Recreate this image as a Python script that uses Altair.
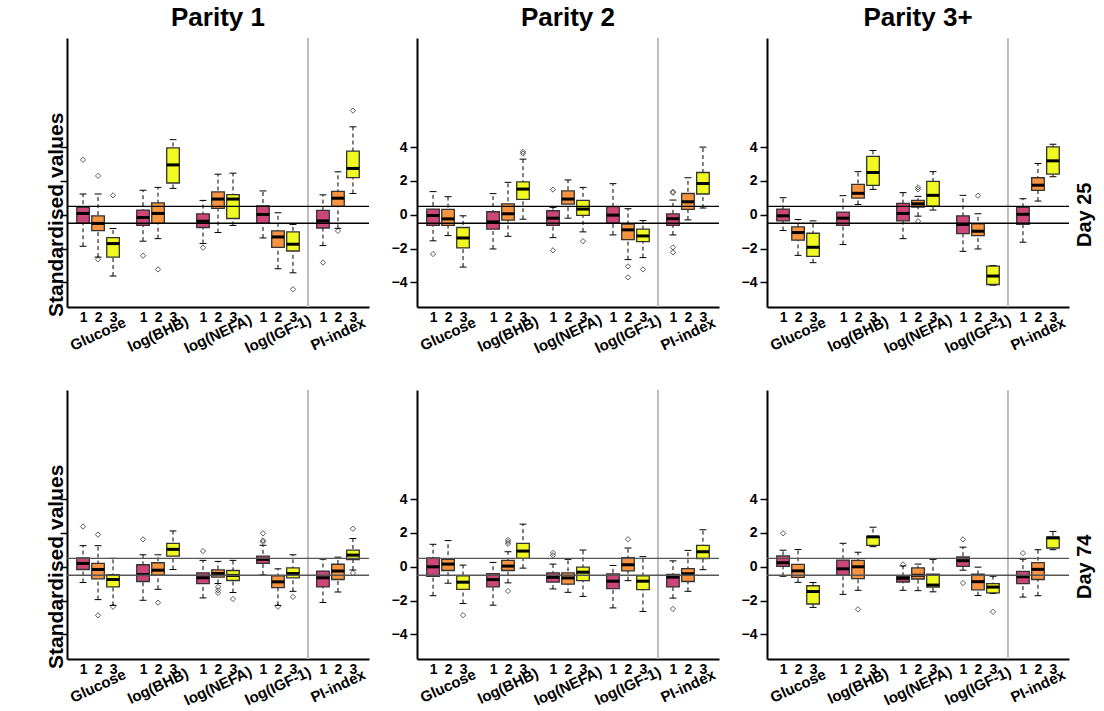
import altair as alt
import pandas as pd

# ---------------------------------------------------------------------------
# Data: standardised blood metabolites by cluster, parity and day in milk
# ---------------------------------------------------------------------------
VARIABLES = ["Glucose", "log(BHB)", "log(NEFA)", "log(IGF-1)", "PI-index"]
CLUSTERS = [1, 2, 3]
CLUSTER_COLOURS = ["#CC4678", "#F89441", "#F0F921"]
PARITIES = ["Parity 1", "Parity 2", "Parity 3+"]
DAYS = ["Day 25", "Day 74"]
Y_TICKS = [-4, -2, 0, 2, 4]
REF_LEVELS = [-0.5, 0.5]

# Box statistics (lower whisker, Q1, median, Q3, upper whisker), ordered
# Glucose 1-3, log(BHB) 1-3, log(NEFA) 1-3, log(IGF-1) 1-3, PI-index 1-3
P1_D25 = [
    (-1.86, -0.51, 0.08, 0.44, 1.23), (-2.50, -0.93, -0.51, -0.06, 1.23), (-3.62, -2.50, -1.70, -1.35, -0.81),
    (-1.56, -0.63, -0.16, 0.28, 1.45), (-1.41, -0.51, 0.08, 0.71, 1.62), (1.56, 1.88, 2.95, 3.96, 4.44),
    (-1.70, -0.75, -0.38, 0.06, 0.85), (-1.05, 0.38, 0.93, 1.35, 2.40), (-0.63, -0.22, 0.93, 1.19, 2.46),
    (-1.37, -0.51, 0.02, 0.53, 1.41), (-3.19, -1.92, -1.31, -0.95, 0.12), (-3.43, -2.14, -1.74, -1.01, -0.57),
    (-1.82, -0.78, -0.36, 0.26, 1.18), (-0.80, 0.50, 0.98, 1.38, 2.54), (1.26, 2.20, 2.74, 3.76, 5.20),
]
P2_D25 = [
    (-1.54, -0.63, -0.04, 0.34, 1.37), (-1.23, -0.63, -0.24, 0.32, 1.07), (-3.09, -1.96, -1.37, -0.75, -0.06),
    (-2.02, -0.85, -0.42, 0.18, 1.25), (-1.27, -0.32, 0.06, 0.65, 1.92), (-0.26, 0.91, 1.52, 1.94, 3.29),
    (-1.35, -0.63, -0.20, 0.24, 0.44), (-0.20, 0.63, 0.93, 1.41, 2.06), (-1.01, -0.04, 0.34, 0.85, 1.62),
    (-1.19, -0.50, -0.02, 0.48, 1.84), (-2.65, -1.47, -0.89, -0.55, 0.36), (-2.53, -1.58, -1.25, -0.85, -0.34),
    (-1.19, -0.62, -0.23, 0.05, 0.87), (-0.30, 0.32, 0.77, 1.26, 2.19), (0.40, 1.23, 1.85, 2.50, 4.00),
]
P3_D25 = [
    (-0.93, -0.36, -0.06, 0.34, 1.01), (-2.40, -1.50, -1.05, -0.71, -0.28), (-2.83, -2.46, -1.92, -1.09, -0.36),
    (-1.76, -0.63, -0.20, 0.16, 1.13), (0.61, 0.99, 1.27, 1.80, 2.55), (1.50, 1.74, 2.50, 3.45, 3.80),
    (-1.41, -0.36, 0.08, 0.67, 1.31), (-0.08, 0.46, 0.65, 0.85, 1.09), (0.28, 0.51, 1.15, 1.98, 2.55),
    (-2.16, -1.11, -0.57, -0.06, 1.15), (-2.02, -1.23, -0.97, -0.53, 0.06), (-4.16, -4.12, -3.62, -3.03, -3.00),
    (-1.62, -0.56, 0.03, 0.44, 0.95), (0.81, 1.44, 1.75, 2.19, 3.03), (2.25, 2.40, 3.19, 4.01, 4.17),
]
P1_D74 = [
    (-0.93, -0.16, 0.20, 0.53, 1.25), (-1.94, -0.71, -0.16, 0.20, 1.25), (-2.28, -1.19, -0.75, -0.46, 0.50),
    (-1.98, -0.87, -0.46, 0.12, 0.71), (-1.33, -0.50, -0.20, 0.24, 0.71), (-0.16, 0.63, 1.03, 1.39, 2.12),
    (-1.84, -0.99, -0.65, -0.36, 0.38), (-0.99, -0.61, -0.40, -0.18, 0.32), (-1.52, -0.81, -0.51, -0.22, 0.38),
    (-0.48, 0.20, 0.44, 0.63, 1.27), (-2.28, -1.23, -0.89, -0.53, -0.12), (-1.45, -0.65, -0.40, -0.06, 0.71),
    (-2.11, -1.19, -0.65, -0.25, 0.45), (-1.49, -0.75, -0.25, 0.15, 0.57), (-0.19, 0.43, 0.69, 0.99, 1.67),
]
P2_D74 = [
    (-1.71, -0.56, 0.00, 0.52, 1.33), (-0.97, -0.22, 0.16, 0.44, 1.55), (-2.17, -1.33, -0.91, -0.54, 0.10),
    (-2.27, -1.19, -0.76, -0.40, 0.26), (-0.95, -0.22, 0.04, 0.38, 0.89), (-0.08, 0.50, 0.93, 1.39, 2.52),
    (-1.31, -0.91, -0.62, -0.36, 0.16), (-1.51, -1.03, -0.66, -0.36, 0.44), (-1.75, -0.82, -0.32, -0.02, 0.99),
    (-2.43, -1.29, -0.85, -0.42, 0.08), (-0.82, -0.24, 0.12, 0.54, 1.11), (-2.64, -1.35, -0.85, -0.54, 0.60),
    (-1.85, -1.19, -0.61, -0.45, 0.35), (-1.45, -0.87, -0.41, -0.11, 0.97), (-0.17, 0.49, 0.89, 1.27, 2.19),
]
P3_D74 = [
    (-0.56, 0.02, 0.24, 0.64, 0.98), (-0.92, -0.62, -0.24, 0.14, 1.02), (-2.40, -2.20, -1.46, -1.12, -0.93),
    (-1.63, -0.50, -0.12, 0.40, 1.39), (-1.39, -0.70, 0.00, 0.38, 0.86), (1.19, 1.27, 1.77, 1.79, 2.34),
    (-1.39, -0.90, -0.68, -0.56, 0.05), (-1.41, -0.72, -0.50, -0.06, 0.16), (-1.48, -1.20, -1.08, -0.44, 0.44),
    (-0.20, 0.02, 0.36, 0.58, 1.16), (-1.70, -1.36, -0.88, -0.44, -0.02), (-1.58, -1.54, -1.20, -1.00, -0.56),
    (-1.79, -0.99, -0.59, -0.27, 0.45), (-1.71, -0.75, -0.15, 0.25, 1.01), (1.01, 1.11, 1.71, 1.75, 2.09),
]

# Outlying observations: (variable, cluster, value)
P1_D25_OUT = [("Glucose", 1, 3.25), ("Glucose", 2, 2.30), ("Glucose", 2, -2.63), ("Glucose", 3, 1.15),
              ("log(BHB)", 1, -2.42), ("log(BHB)", 2, -3.23), ("log(NEFA)", 1, -1.94),
              ("log(IGF-1)", 3, -4.40), ("PI-index", 1, -2.82), ("PI-index", 2, -0.95), ("PI-index", 3, 6.16)]
P2_D25_OUT = [("Glucose", 1, -2.32), ("log(BHB)", 3, 3.62), ("log(BHB)", 3, 3.72), ("log(NEFA)", 1, 1.49),
              ("log(NEFA)", 1, -2.10), ("log(NEFA)", 3, -1.56), ("log(IGF-1)", 2, -3.05), ("log(IGF-1)", 2, -3.70),
              ("log(IGF-1)", 3, -3.23), ("PI-index", 1, 1.36), ("PI-index", 1, 1.30), ("PI-index", 1, -1.93),
              ("PI-index", 1, -2.22)]
P3_D25_OUT = [("log(NEFA)", 2, 1.62), ("log(NEFA)", 2, 1.50), ("log(NEFA)", 2, -0.38), ("log(IGF-1)", 2, 1.13)]
P1_D74_OUT = [("Glucose", 1, 2.38), ("Glucose", 2, 1.90), ("Glucose", 2, -2.87), ("Glucose", 3, -2.36),
              ("log(BHB)", 1, 1.62), ("log(BHB)", 2, -2.12), ("log(NEFA)", 1, 0.93), ("log(NEFA)", 2, -1.19),
              ("log(NEFA)", 2, -1.39), ("log(NEFA)", 2, -1.54), ("log(NEFA)", 3, -1.90), ("log(IGF-1)", 1, 1.98),
              ("log(IGF-1)", 1, 1.56), ("log(IGF-1)", 1, 1.47), ("log(IGF-1)", 2, -2.36), ("log(IGF-1)", 3, -1.78),
              ("PI-index", 3, 2.25), ("PI-index", 3, -0.37)]
P2_D74_OUT = [("Glucose", 3, -2.86), ("log(BHB)", 2, 1.59), ("log(BHB)", 2, 1.47), ("log(BHB)", 2, 1.35),
              ("log(BHB)", 2, -1.43), ("log(NEFA)", 1, 0.82), ("log(NEFA)", 1, 0.68), ("log(IGF-1)", 2, 1.63),
              ("PI-index", 1, -2.49)]
P3_D74_OUT = [("Glucose", 1, 1.98), ("log(BHB)", 2, -2.51), ("log(NEFA)", 1, 0.14), ("log(IGF-1)", 1, 1.62),
              ("log(IGF-1)", 1, -0.96), ("log(IGF-1)", 3, -2.66), ("PI-index", 1, 0.81)]

PANELS = {
    ("Parity 1", "Day 25"): (P1_D25, P1_D25_OUT),
    ("Parity 2", "Day 25"): (P2_D25, P2_D25_OUT),
    ("Parity 3+", "Day 25"): (P3_D25, P3_D25_OUT),
    ("Parity 1", "Day 74"): (P1_D74, P1_D74_OUT),
    ("Parity 2", "Day 74"): (P2_D74, P2_D74_OUT),
    ("Parity 3+", "Day 74"): (P3_D74, P3_D74_OUT),
}

# ---------------------------------------------------------------------------
# Layout of one panel: each variable takes four slots (three boxes + a gap)
# ---------------------------------------------------------------------------
W, H = 302, 269
X_DOMAIN = [-1.07, 19.07]
Y_DOMAIN = [-5.45, 10.45]
SEPARATOR_SLOT = 15
FONT = "Liberation Sans"


def slot_of(var, cluster):
    return 4 * VARIABLES.index(var) + cluster - 1


box_rows, out_rows = [], []
for (parity, day), (stats, outs) in PANELS.items():
    for i, (lo, q1, med, q3, hi) in enumerate(stats):
        var, cl = VARIABLES[i // 3], CLUSTERS[i % 3]
        box_rows.append(dict(parity=parity, day=day, variable=var, cluster=cl,
                             slot=slot_of(var, cl), lo=lo, q1=q1, med=med, q3=q3, hi=hi))
    for var, cl, v in outs:
        out_rows.append(dict(parity=parity, day=day, variable=var, cluster=cl,
                             slot=slot_of(var, cl), value=v))
boxes = pd.DataFrame(box_rows)
outliers = pd.DataFrame(out_rows)
names = pd.DataFrame({"name": VARIABLES, "slot": [4 * i + 1 for i in range(len(VARIABLES))]})
refs = pd.DataFrame({"level": REF_LEVELS})
sep = pd.DataFrame({"at": [SEPARATOR_SLOT]})
x_label_slots = [slot_of(v, c) for v in VARIABLES for c in CLUSTERS]


def panel(parity, day, col, row):
    bx = boxes[(boxes.parity == parity) & (boxes.day == day)]
    ol = outliers[(outliers.parity == parity) & (outliers.day == day)]

    xs = alt.Scale(domain=X_DOMAIN, nice=False, zero=False)
    ys = alt.Scale(domain=Y_DOMAIN, nice=False, zero=False)
    ax_x = alt.Axis(values=x_label_slots, labelExpr="datum.value % 4 + 1", ticks=False, grid=False,
                    domainColor="black", domainWidth=2, labelFontSize=14, labelFontWeight="bold",
                    labelColor="black", labelPadding=3, labelFlush=False, labelOverlap=False, title=None)
    ax_y = alt.Axis(values=Y_TICKS, grid=False, domainColor="black", domainWidth=2, tickColor="black",
                    tickSize=7, tickWidth=1.5, labels=(col > 0), labelFontSize=14, labelFontWeight="bold",
                    labelColor="black", labelPadding=3, title=None)

    def X(f):
        return alt.X(f, scale=xs, axis=ax_x, title=None)

    def Y(f):
        return alt.Y(f, scale=ys, axis=ax_y, title=None)

    ref_colour = "black" if row == 0 else "#555555"

    layers = [
        alt.Chart(sep).mark_rule(color="#BDBDBD", strokeWidth=2).encode(x=X("at:Q")),
        alt.Chart(bx).mark_rule(color="black", strokeWidth=1, strokeDash=[4, 3])
        .encode(x=X("slot:Q"), y=Y("lo:Q"), y2="hi:Q"),
        alt.Chart(bx).transform_fold(["lo", "hi"], as_=["end", "val"])
        .transform_calculate(a="datum.slot - 0.23", b="datum.slot + 0.23")
        .mark_rule(color="black", strokeWidth=1)
        .encode(x=X("a:Q"), x2="b:Q", y=Y("val:Q")),
        alt.Chart(bx).transform_calculate(a="datum.slot - 0.42", b="datum.slot + 0.42")
        .mark_bar(stroke="#333333", strokeWidth=1.3, opacity=1)
        .encode(x=X("a:Q"), x2="b:Q", y=Y("q1:Q"), y2="q3:Q",
                fill=alt.Fill("cluster:N", scale=alt.Scale(domain=CLUSTERS, range=CLUSTER_COLOURS),
                              legend=None)),
        alt.Chart(bx).transform_calculate(a="datum.slot - 0.42", b="datum.slot + 0.42")
        .mark_rule(color="black", strokeWidth=3)
        .encode(x=X("a:Q"), x2="b:Q", y=Y("med:Q")),
        alt.Chart(ol).mark_point(shape="diamond", filled=False, color="black", size=28, strokeWidth=0.9)
        .encode(x=X("slot:Q"), y=Y("value:Q")),
        alt.Chart(refs).mark_rule(color=ref_colour, strokeWidth=1.3).encode(y=Y("level:Q")),
        alt.Chart(names).mark_text(angle=335, fontSize=15, fontWeight="bold", font=FONT, color="black")
        .encode(x=X("slot:Q"), y=alt.value(H + 27), text="name:N"),
    ]
    if col == 0:
        ylab = pd.DataFrame({"level": [0], "label": ["Standardised values"]})
        layers.append(alt.Chart(ylab).mark_text(angle=270, fontSize=21, fontWeight="bold", font=FONT,
                                                color="black")
                      .encode(x=alt.value(-10), y=Y("level:Q"), text="label:N"))
    if col == 2:
        rlab = pd.DataFrame({"level": [0], "label": [day]})
        layers.append(alt.Chart(rlab).mark_text(angle=270, fontSize=20, fontWeight="bold", font=FONT,
                                                color="black")
                      .encode(x=alt.value(W + 16), y=Y("level:Q"), text="label:N"))

    props = dict(width=W, height=H)
    if row == 0:
        props["title"] = alt.TitleParams(parity, fontSize=26, fontWeight="bold", font=FONT,
                                         color="black", offset=6, anchor="middle")
    return alt.layer(*layers).properties(**props)


cells = [panel(p, d, c, r) for r, d in enumerate(DAYS) for c, p in enumerate(PARITIES)]

chart = (
    alt.concat(*cells, columns=3, spacing={"row": 83, "column": 48}, bounds="flush")
    .properties(padding={"left": 45, "top": 5, "right": 5, "bottom": 5}, background="white")
    .configure(font=FONT)
    .configure_view(stroke=None)
)

chart.save("out.html", embed_options={"renderer": "svg", "actions": False})
